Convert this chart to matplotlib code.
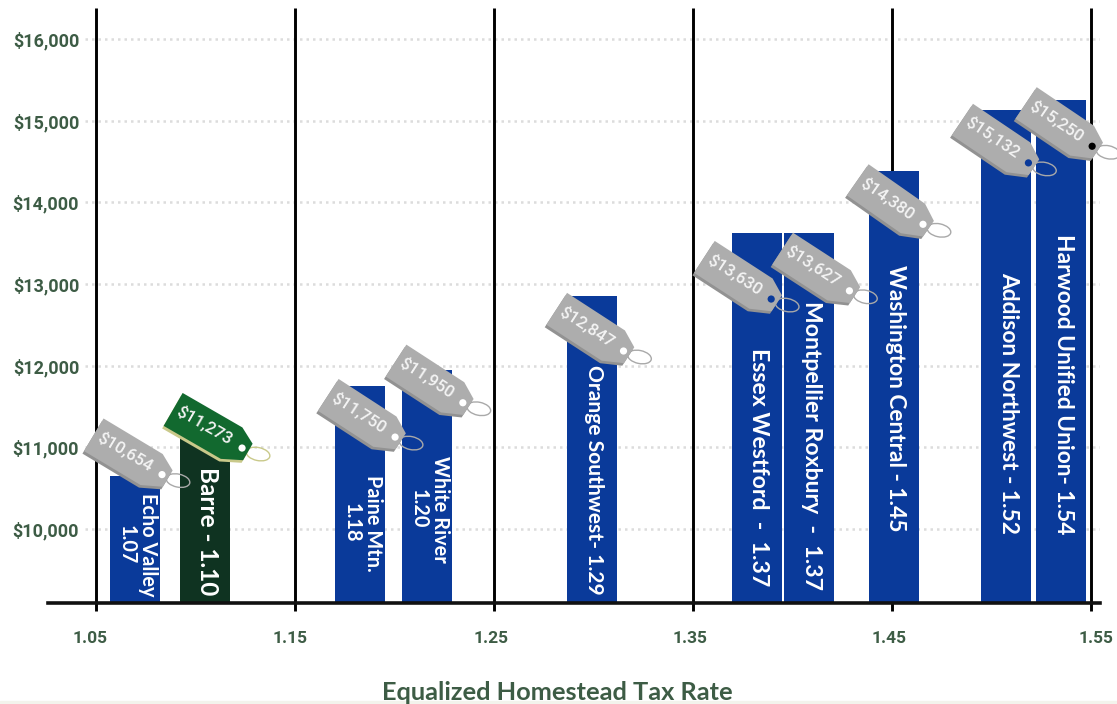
import matplotlib
matplotlib.use("Agg")
import matplotlib.pyplot as plt
from matplotlib.patches import Polygon, Ellipse, Circle
from matplotlib.transforms import Affine2D, ScaledTranslation

# supervisory unions
names = ["Echo Valley\n1.07", "Barre - 1.10", "Paine Mtn.\n1.18", "White River\n1.20",
         "Orange Southwest- 1.29", "Essex Westford  -  1.37", "Montpellier Roxbury  -  1.37",
         "Washington Central - 1.45", "Addison Northwest - 1.52", "Harwood Unified Union- 1.54"]
rates = [1.0696, 1.1048, 1.1827, 1.2165, 1.299, 1.382, 1.4085, 1.451, 1.5075, 1.535]
costs = [10654, 11273, 11750, 11950, 12847, 13630, 13627, 14380, 15132, 15250]
cost_labels = ["$10,654", "$11,273", "$11,750", "$11,950", "$12,847",
               "$13,630", "$13,627", "$14,380", "$15,132", "$15,250"]
label_y = [9804, 9976, 10073, 10245, 10606, 10759, 11028, 11604, 11549, 11775]
label_size = [14.3, 17.5, 14.3, 14.3, 15.1, 16.6, 16.6, 16.4, 16.4, 16.4]

x_ticks = [1.05, 1.15, 1.25, 1.35, 1.45, 1.55]
x_tick_labels = ["1.05", "1.15", "1.25", "1.35", "1.45", "1.55"]
x_label_shift = [-6, -5, -3, -3, -3, 5]
y_ticks = [10000, 11000, 12000, 13000, 14000, 15000, 16000]
y_tick_labels = ["$10,000", "$11,000", "$12,000", "$13,000", "$14,000", "$15,000", "$16,000"]

# tag placement, pixels from the top centre of each bar
tag_dx = [27, 37, 35, 35.5, 32, 14.5, 40, 29, 22, 31]
tag_dy = [-1, 23, 51, 33, 54.5, 66.5, 58, 53, 53, 46]
tag_angle = [31, 30, 33, 33, 33, 33, 33, 35, 34, 34]
hole_colors = ["white", "white", "white", "white", "white", "#0a3a9a", "white", "white", "#0a3a9a", "black"]

BLUE = "#0a3a9a"
DARK = "#0f3321"
TEXT = "#3d5c45"
W, H = 1117, 704

plt.rcParams["font.family"] = ["Roboto", "DejaVu Sans"]
fig = plt.figure(figsize=(W / 100, H / 100), dpi=100)

# axes box runs from pixel 48 to 1100 across and 8 to 603 down
ax = fig.add_axes([48 / W, 1 - 603 / H, (1100 - 48) / W, (603 - 8) / H])
ax.set_xlim(1.05 + (48 - 96) / 1990, 1.05 + (1100 - 96) / 1990)
ax.set_ylim(10000 - (603 - 529) / 0.08167, 16000 + (39 - 8) / 0.08167)
for s in ax.spines.values():
    s.set_visible(False)

# overlay in plain pixels for the price tags
over = fig.add_axes([0, 0, 1, 1], zorder=5)
over.set_xlim(0, W)
over.set_ylim(H, 0)
over.axis("off")

ax.hlines(y_ticks, 1.0445, ax.get_xlim()[1], colors="#dcdcdc", linewidth=1.8, linestyles=(0, (1, 1.6)), zorder=1)
ax.vlines(x_ticks, ax.get_ylim()[0] - 100, ax.get_ylim()[1], colors="black", linewidth=2.1, zorder=2, clip_on=False)
ax.axhline(ax.get_ylim()[0], color="#111111", linewidth=2.6, zorder=4, clip_on=False)

colors = [BLUE] * len(rates)
colors[1] = DARK
ax.bar(rates, costs, width=50 / 1990, color=colors, zorder=3)

ax.set_xticks(x_ticks)
ax.set_xticklabels(x_tick_labels)
ax.set_yticks(y_ticks)
ax.set_yticklabels(y_tick_labels)
ax.tick_params(length=0)
for t in ax.get_yticklabels():
    t.set(color=TEXT, fontsize=13, fontweight="bold", ha="right")
    t.set_x((84 - 48 + 0.0) / (1100 - 48))
for t, shift in zip(ax.get_xticklabels(), x_label_shift):
    t.set(color=TEXT, fontsize=12.5, fontweight="bold")
    t.set_y(-(635 - 603 - 9) / (603 - 8))
    t.set_transform(t.get_transform() + ScaledTranslation(shift / 100, 0, fig.dpi_scale_trans))

for i in range(len(names)):
    ax.text(rates[i] + 2 / 1990, label_y[i], names[i], color="white", rotation=-90,
            ha="center", va="center", fontsize=label_size[i], family="Lato", fontweight="bold",
            linespacing=1.1, multialignment="center", zorder=4)

fig.text(557 / W, 1 - 692 / H, "Equalized Homestead Tax Rate", color=TEXT, fontsize=18.3,
         fontweight="bold", family="Lato", ha="center", va="center")
fig.patches.append(plt.Rectangle((0, 0), 1, 3 / H, transform=fig.transFigure, color="#f3f3ec", zorder=-1))

body = [(-79, -18), (-10, -18), (7, -9), (7, 10), (-13, 20), (-79, 20)]
edge = [(x, y + 3) for x, y in body]

for i in range(len(rates)):
    px, py = ax.transData.transform((rates[i], costs[i]))
    hx = px + tag_dx[i]
    hy = H - py + tag_dy[i]
    tr = Affine2D().rotate_deg(tag_angle[i]).translate(hx, hy) + over.transData
    green = i == 1
    over.add_patch(Ellipse((hx + 16, hy + 6), 24, 13, angle=12, fill=False, linewidth=1,
                           edgecolor="#c9c98a" if green else "#a9a9a9"))
    over.add_patch(Polygon(edge, closed=True, transform=tr, joinstyle="round",
                           facecolor="#c9c98a" if green else "#929292", edgecolor="none"))
    over.add_patch(Polygon(body, closed=True, transform=tr, joinstyle="round",
                           facecolor="#12692f" if green else "#adadad", edgecolor="none"))
    over.add_patch(Circle((hx, hy), 3.6, facecolor=hole_colors[i], edgecolor="none"))
    cx, cy = Affine2D().rotate_deg(tag_angle[i]).translate(hx, hy).transform((-44, -1))
    over.text(cx, cy, cost_labels[i], color="#f4f4f4", fontsize=12.2, fontweight="medium",
              rotation=-tag_angle[i], rotation_mode="anchor", ha="center", va="center")

fig.savefig("out.png", dpi=100)
